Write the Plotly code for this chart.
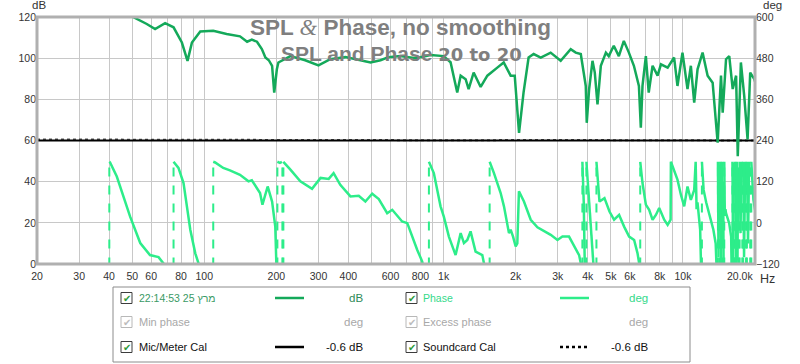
import math
import plotly.graph_objects as go

# ---------------- data ----------------
spl_freq = [40, 45, 50.4, 57.5, 62.3, 68.6, 74.4, 80.6, 85.1, 88.8, 96.2, 109, 124, 141, 151, 158, 166, 174, 180, 186,
            192, 196, 201, 204, 229, 264, 300, 336, 389, 441, 495, 545, 588, 660, 763, 882, 1000, 1069, 1140, 1178,
            1236, 1272, 1335, 1428, 1523, 1676, 1783, 1906, 1982, 2066, 2158, 2265, 2378, 2546, 2800, 3084, 3396, 3564,
            3742, 3926, 3963, 4055, 4188, 4282, 4395, 4538, 4764, 4898, 5140, 5396, 5662, 5944, 6238, 6546, 6668, 6776,
            6998, 7194, 7466, 7834, 8092, 8630, 9184, 9486, 9954, 10448, 10790, 11144, 11508, 12078, 12678, 13306,
            13964, 14422, 14656, 15136, 15612, 16140, 16674, 16944, 17460, 18032, 18622, 19100, 19862, 20180]
spl_db = [126, 123, 120.3, 116.6, 114.1, 117, 115, 107.6, 98.7, 107.6, 113, 113.3, 111.7, 110.6, 108, 109, 108, 104.4,
          100.3, 99, 96.3, 83.3, 94.6, 97.9, 101, 99, 96.5, 99.5, 100.5, 99, 97.9, 99, 100.5, 101, 100, 101.5, 101, 98,
          83.3, 91.5, 89.8, 85, 93, 86, 91.5, 95.4, 97.9, 91.5, 91.5, 63.7, 83.4, 100.3, 102, 100.3, 102.7, 98.7, 104.4,
          102.7, 102, 86.5, 68.6, 85, 98.7, 93, 77.6, 96.3, 102.7, 101, 106, 101, 108.4, 102.7, 96.3, 86.5, 66.2, 86.5,
          101, 83.3, 96.3, 91.5, 97, 95.4, 100.3, 86.5, 102.7, 85, 96.3, 78.4, 94.6, 102.7, 91.5, 88.1, 58.9, 91.5,
          73.5, 99.5, 101, 85, 91.5, 52.4, 97.9, 81.7, 60.5, 93, 89.8, 87.3]

phase_freq = [39.5, 40.1, 40.4, 43.1, 45.8, 49.0, 54.0, 59.3, 64.4, 67.5, 72.0,
              74.4, 78.0, 81.9, 84.6, 87.4, 91.7, 94.6, 99,
              109, 111, 120, 128, 141, 153, 158, 171, 175, 184, 192, 198, 200, 201,
              202, 207, 211, 212, 214,
              215, 229, 252, 282, 306, 331, 347, 370, 408, 442, 471, 503, 536, 581, 610, 671, 705, 776, 814, 840,
              868, 910, 971, 1002, 1052, 1122, 1178, 1216, 1256, 1296, 1360, 1451, 1474, 1527,
              1557, 1623, 1731, 1787, 1875, 1906, 1950, 2000, 2032, 2064, 2166, 2312, 2466, 2626, 2802, 2990, 3136,
              3342, 3508, 3682, 3742, 3780,
              3800, 3850, 3900, 3950, 4000, 4100, 4200, 4280,
              4350, 4480, 4700, 4932, 5156, 5410, 5678, 5958, 6252, 6460, 6562, 6610,
              6630, 6776, 6998, 7224, 7466, 7708, 7958, 8350, 8630, 8880,
              8904, 9184, 9486, 9804, 10120, 10448, 10790, 11144, 11300, 11400, 11500, 11800, 11950,
              12000, 12200, 12500, 12800, 13100, 13400, 13700, 13900,
              14000, 14080, 14160, 14240, 14320, 14400, 14480, 14560, 14640, 14720, 14800, 14880, 14960, 15050,
              15136, 15600, 15900, 16000, 16100, 16200, 16300, 16400, 16500, 16600, 16700, 16800, 16900, 17000, 17100,
              17250, 17400, 17550, 17700, 17850, 18000, 18200, 18350, 18500, 18700, 18900, 19100, 19300, 19500,
              19700, 20000, 20200]
phase_deg = [-178, 178, 176, 135, 79, 18, -59, -94, -100, -118, -170,
             178, 160, 116, 48, -20, -89, -118, -175,
             178, 176, 160, 153, 140, 121, 124, 87, 53, 106, 62, -11, -118, -178,
             178, 175, 178, -178, 178,
             176, 155, 121, 99, 131, 128, 145, 111, 77, 79, 62, 85, 69, 28, 38, 4, -1, -79, -113, -175,
             178, 145, 48, 18, -40, -94, -30, -59, -50, -25, -84, -94, -118, -175,
             178, 145, 87, 48, -30, -20, -40, -69, -60, 92, 62, 9, -13, -25, -35, -50, -40,
             -40, -69, -94, -118, -178,
             178, 60, -178, 178, 120, 0, -100, -178,
             178, 62, 72, 33, 9, 23, -11, -40, -50, -89, -118, -178,
             178, 116, 53, 38, 9, 23, 43, 9, -6, 9,
             178, 155, 126, 82, 48, 106, 67, 96, 178, 40, 60, -20, -178,
             178, 96, 60, 30, 10, -20, -60, -178,
             178, -100, 170, -178, 178, 0, -178, 178, -60, 120, -178, 178, 20, 40,
             28, -1, -40, -178, 178, -120, 175, -178, 178, 30, -178, 178, -110, 160, -178,
             178, -30, 178, -178, 178, -100, 178, -178, 178, -60, 178, -178, 178, 100,
             67, 38, 30]

cal_freq = [20, 20000]
mic_cal_db = [60, 60]
sc_cal_freq = [20, 60, 150, 1500, 2000, 3000, 4000, 20000]
sc_cal_db = [60.5, 60.4, 60.1, 60.1, 60.3, 60.3, 60.1, 60.0]

x_tick_vals = [20, 30, 40, 50, 60, 80, 100, 200, 300, 400, 600, 800, 1000, 2000, 3000, 4000, 5000, 6000, 8000,
               10000]
x_tick_text = ["20", "30", "40", "50", "60", "80", "100", "200", "300", "400", "600", "800", "1k", "2k", "3k",
               "4k", "5k", "6k", "8k", "10k"]
x_last_val = 20000
x_last_tick = "20.0k"   # drawn ending at the frame, as in the reference
x_minor_vals = [70, 90, 500, 700, 900, 7000, 9000, 20000]
db_ticks = [0, 20, 40, 60, 80, 100, 120]
deg_ticks = [-120, 0, 120, 240, 360, 480, 600]

assert len(spl_freq) == len(spl_db)
assert len(phase_freq) == len(phase_deg)

SPL_COL = "#14a95a"
PH_COL = "#2ded8a"
GRID = "#c8c8c8"
FONT = "Liberation Sans"

# ---- split phase at wraps ----
ph_x, ph_y, wr_x, wr_y = [], [], [], []
for i, (f, d) in enumerate(zip(phase_freq, phase_deg)):
    if i > 0 and abs(d - phase_deg[i - 1]) > 300:
        ph_x.append(None); ph_y.append(None)
        wr_x += [f, f, None]; wr_y += [-180, 180, None]
    ph_x.append(f); ph_y.append(d)

fig = go.Figure()
fig.add_trace(go.Scatter(x=sc_cal_freq, y=sc_cal_db, mode="lines",
                         line=dict(color="#555555", width=2, dash="dot"), hoverinfo="skip"))
fig.add_trace(go.Scatter(x=cal_freq, y=mic_cal_db, mode="lines",
                         line=dict(color="black", width=2), hoverinfo="skip"))
fig.add_trace(go.Scatter(x=wr_x, y=wr_y, yaxis="y2", mode="lines",
                         line=dict(color=PH_COL, width=2, dash="dash"), hoverinfo="skip"))
fig.add_trace(go.Scatter(x=ph_x, y=ph_y, yaxis="y2", mode="lines",
                         line=dict(color=PH_COL, width=2.5), hoverinfo="skip"))
fig.add_trace(go.Scatter(x=spl_freq, y=spl_db, mode="lines",
                         line=dict(color=SPL_COL, width=2.5), hoverinfo="skip"))

L, R, T, B = 37, 755, 17, 264
W, H = 800, 364


def px(xp):
    return (xp - L) / (R - L)


def py(yp):
    return (B - yp) / (B - T)


ann = []
shapes = []


def text(xp, yp, s, size, color, xanchor="center", family=FONT):
    ann.append(dict(x=px(xp), y=py(yp), text=s, showarrow=False, xref="paper", yref="paper",
                    xanchor=xanchor, yanchor="middle", font=dict(family=family, size=size, color=color)))


# axis unit labels
text(39, 5, "dB", 11.5, "#333")
text(772, 5, "deg", 11.5, "#333")
text(767, 279, "Hz", 12.5, "#333")
ann.append(dict(x=math.log10(x_last_val), y=py(276), xref="x", yref="paper", text=x_last_tick, showarrow=False,
                xanchor="right", yanchor="middle", font=dict(family=FONT, size=10.5, color="#333")))
# title
text(400, 28, "<b>SPL <span style='font-family:Liberation Serif;font-style:italic;font-weight:normal'>&amp;</span> Phase, no smoothing</b>",
     22.5, "#7f7f7f")
text(401, 54, "<b>SPL and Phase <span style='font-family:DejaVu Sans;font-size:18px'>20 to 20</span></b>",
     21, "#7f7f7f")

# frame
shapes.append(dict(type="rect", xref="paper", yref="paper", x0=0, x1=1, y0=0, y1=1,
                   line=dict(color="#b0b0b0", width=3), layer="above"))

# legend box
shapes.append(dict(type="rect", xref="paper", yref="paper", x0=px(113), x1=px(690), y0=py(287), y1=py(362),
                   line=dict(color="#8c8c8c", width=1), fillcolor="white"))
rows = [298, 322, 347]
items = [
    (0, 0, "22:14:53 25 מרץ", "#3a9a64", True, ("solid", SPL_COL), "dB", "#2f8a58"),
    (1, 0, "Phase", "#35d98a", True, ("solid", PH_COL), "deg", "#35d98a"),
    (0, 1, "Min phase", "#a8a8a8", False, None, "deg", "#a8a8a8"),
    (1, 1, "Excess phase", "#a8a8a8", False, None, "deg", "#a8a8a8"),
    (0, 2, "Mic/Meter Cal", "#111111", True, ("solid", "black"), "-0.6 dB", "#111111"),
    (1, 2, "Soundcard Cal", "#111111", True, ("dot", "black"), "-0.6 dB", "#111111"),
]
col_box = [121, 406]
col_txt = [137, 421]
col_line = [(275, 304), (560, 589)]
col_val = [365, 650]
for col, row, label, lcol, enabled, sample, val, vcol in items:
    yc = rows[row]
    bx = col_box[col]
    shapes.append(dict(type="rect", xref="paper", yref="paper", x0=px(bx), x1=px(bx + 11),
                       y0=py(yc - 5.5), y1=py(yc + 5.5),
                       line=dict(color="#3c3c3c" if enabled else "#b8b8b8", width=1), fillcolor="white"))
    text(bx + 5.6, yc, "✔", 10, "#2e9a3a" if enabled else "#bcbcbc", family="DejaVu Sans")
    text(col_txt[col], yc, label, 11 if row else 10.5, lcol, xanchor="left")
    text(col_val[col], yc, val, 11.5, vcol, xanchor="right")
    if sample:
        dash, c = sample
        shapes.append(dict(type="line", xref="paper", yref="paper", x0=px(col_line[col][0]),
                           x1=px(col_line[col][1]), y0=py(yc), y1=py(yc),
                           line=dict(color=c, width=2.5, dash=dash)))

fig.update_layout(
    width=W, height=H, autosize=False,
    margin=dict(l=L, r=W - R, t=T, b=H - B, autoexpand=False),
    plot_bgcolor="white", paper_bgcolor="white",
    showlegend=False,
    font=dict(family=FONT, size=10.5, color="#333"),
    xaxis=dict(type="log", range=[1.30103, 4.30103], tickvals=x_tick_vals, ticktext=x_tick_text,
               showgrid=True, gridcolor=GRID, gridwidth=1, ticks="", zeroline=False, showline=False,
               tickfont=dict(size=10.5), ticklabelstandoff=4,
               minor=dict(tickvals=x_minor_vals, showgrid=True, gridcolor=GRID, gridwidth=1, ticks="")),
    yaxis=dict(range=[0, 120], tickvals=db_ticks, showgrid=True, gridcolor=GRID, ticks="", zeroline=False,
               tickfont=dict(size=10.5)),
    yaxis2=dict(range=[-120, 600], tickvals=deg_ticks, overlaying="y", side="right", showgrid=False,
                ticks="", zeroline=False, tickfont=dict(size=10.5)),
    annotations=ann, shapes=shapes,
)

fig.write_html("out.html", config={"displayModeBar": False},
               post_script="document.body.style.margin='0px';")
